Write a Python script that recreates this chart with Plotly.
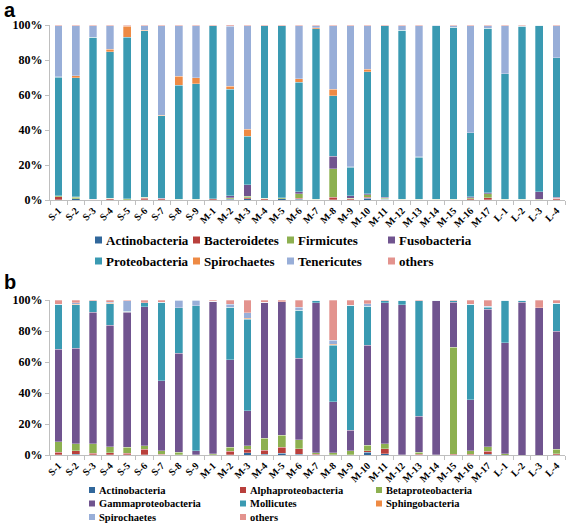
import plotly.graph_objects as go

W, H = 567, 526

samples = ["S-1", "S-2", "S-3", "S-4", "S-5", "S-6", "S-7", "S-8", "S-9",
           "M-1", "M-2", "M-3", "M-4", "M-5", "M-6", "M-7", "M-8", "M-9", "M-10",
           "M-11", "M-12", "M-13", "M-14", "M-15", "M-16", "M-17",
           "L-1", "L-2", "L-3", "L-4"]

# ---- Panel a: phylum level (%), bottom -> top ----
a_actinobacteria = [0.2, 0.6, 0.1, 0.1, 0.1, 0.2, 0.1, 0.1, 0.1, 0.1, 0.3, 0.7, 0.1, 0.7, 0.5, 0.1, 0.1, 0.1, 1.0,
                    0.3, 0.1, 0.1, 0.1, 0.1, 0.2, 0.2, 0.1, 0.1, 0.1, 0.2]
a_bacteroidetes = [1.8, 0.2, 0.2, 0.5, 0.1, 0.8, 0.5, 0.1, 0.1, 0.5, 0.3, 0.7, 0.7, 0.1, 0.5, 0.1, 1.4, 0.7, 0.7,
                   0.2, 0.1, 0.1, 0.1, 0.1, 0.6, 1.0, 0.1, 0.1, 0.1, 0.8]
a_firmicutes = [0.3, 0.8, 0.2, 0.3, 0.4, 0.5, 0.1, 0.1, 0.2, 0.1, 0.7, 0.7, 0.1, 0.5, 2.5, 0.1, 16.5, 0.2, 1.3,
                0.5, 0.1, 0.1, 0.1, 0.1, 0.5, 2.5, 0.1, 0.1, 0.1, 0.1]
a_fusobacteria = [0.0, 0.2, 0.0, 0.0, 0.0, 0.0, 0.2, 0.0, 0.0, 0.0, 1.0, 6.7, 0.1, 0.1, 1.2, 0.1, 7.1, 1.5, 0.5,
                  0.5, 0.1, 0.2, 0.0, 0.0, 0.5, 0.5, 0.0, 0.0, 4.4, 0.5]
a_proteobacteria = [67.9, 68.2, 92.4, 83.9, 92.3, 95.2, 47.3, 65.2, 66.1, 98.9, 60.9, 27.6, 98.5, 98.2, 62.5, 97.5, 34.4, 16.2, 69.7,
                    98.1, 96.7, 24.0, 99.4, 98.3, 36.5, 93.9, 71.8, 98.9, 95.1, 79.7]
a_spirochaetes = [0.3, 1.0, 0.1, 1.3, 6.5, 0.2, 0.1, 5.2, 3.5, 0.0, 1.8, 4.1, 0.0, 0.0, 2.2, 0.6, 3.7, 0.3, 1.4,
                  0.0, 0.0, 0.1, 0.0, 0.0, 0.1, 0.0, 0.0, 0.0, 0.0, 0.0]
a_tenericutes = [29.0, 28.5, 6.6, 13.4, 0.2, 2.6, 51.3, 28.9, 29.6, 0.1, 34.2, 59.0, 0.2, 0.1, 30.1, 1.1, 36.3, 80.7, 24.9,
                 0.1, 2.5, 75.0, 0.1, 1.0, 61.1, 1.5, 27.5, 0.5, 0.0, 18.2]
a_others = [0.5, 0.5, 0.4, 0.5, 0.4, 0.5, 0.4, 0.4, 0.4, 0.3, 0.8, 0.5, 0.3, 0.3, 0.5, 0.4, 0.5, 0.3, 0.5,
            0.3, 0.4, 0.4, 0.2, 0.4, 0.5, 0.4, 0.4, 0.3, 0.2, 0.5]

# ---- Panel b: class level (%), bottom -> top ----
b_actinobacteria = [0.2, 0.5, 0.1, 0.1, 0.1, 0.1, 0.1, 0.0, 0.0, 0.0, 0.1, 1.3, 0.6, 1.0, 0.5, 0.0, 0.0, 0.0, 1.9,
                    0.8, 0.0, 0.0, 0.0, 0.0, 0.0, 0.6, 0.0, 0.0, 0.0, 0.1]
b_alphaproteobacteria = [1.5, 2.3, 0.9, 1.2, 0.9, 3.6, 0.5, 0.2, 0.1, 0.1, 2.3, 2.4, 2.6, 4.0, 3.4, 0.6, 0.2, 0.2, 0.9,
                         3.1, 0.1, 0.5, 0.0, 0.6, 0.5, 1.8, 0.0, 0.0, 0.0, 0.7]
b_betaproteobacteria = [6.7, 4.5, 6.3, 4.1, 4.0, 2.3, 2.2, 1.5, 0.2, 0.7, 2.6, 2.3, 7.6, 7.7, 6.0, 0.7, 1.3, 2.6, 3.5,
                        3.4, 0.1, 1.4, 0.2, 68.8, 2.3, 2.8, 0.8, 0.0, 0.0, 2.9]
b_gammaproteobacteria = [59.7, 61.5, 84.9, 78.4, 87.2, 89.5, 45.0, 63.8, 2.5, 98.3, 56.4, 22.4, 87.7, 86.2, 52.4, 96.8, 32.8, 13.1, 64.6,
                         91.0, 96.6, 23.1, 99.4, 29.1, 33.0, 88.8, 71.6, 98.5, 95.0, 76.3]
b_mollicutes = [29.3, 28.0, 7.2, 13.8, 0.7, 2.6, 50.9, 29.5, 93.5, 0.0, 33.9, 59.1, 0.0, 0.0, 31.2, 1.7, 36.6, 80.7, 25.2,
                1.3, 3.2, 74.6, 0.2, 0.9, 61.6, 1.3, 27.4, 1.5, 0.0, 17.8]
b_sphingobacteria = [0.0, 0.6, 0.0, 0.2, 0.0, 0.0, 0.0, 0.0, 0.0, 0.0, 0.0, 0.6, 0.0, 0.0, 0.0, 0.0, 0.4, 0.0, 0.0,
                     0.0, 0.0, 0.0, 0.0, 0.0, 0.0, 0.2, 0.0, 0.0, 0.0, 0.0]
b_spirochaetes = [0.0, 0.8, 0.0, 0.7, 6.5, 0.0, 0.0, 4.8, 3.5, 0.0, 2.1, 3.7, 0.0, 0.0, 1.8, 0.0, 2.8, 0.0, 1.5,
                  0.0, 0.0, 0.0, 0.0, 0.0, 0.0, 0.6, 0.0, 0.0, 0.0, 0.0]
b_others = [2.6, 1.8, 0.6, 1.5, 0.6, 1.9, 1.3, 0.2, 0.2, 0.9, 2.6, 8.2, 1.5, 1.1, 4.7, 0.2, 25.9, 3.4, 2.4,
            0.4, 0.0, 0.4, 0.2, 0.6, 2.6, 3.9, 0.2, 0.0, 5.0, 2.2]

a_names = ["Actinobacteria", "Bacteroidetes", "Firmicutes", "Fusobacteria",
           "Proteobacteria", "Spirochaetes", "Tenericutes", "others"]
a_series = [a_actinobacteria, a_bacteroidetes, a_firmicutes, a_fusobacteria,
            a_proteobacteria, a_spirochaetes, a_tenericutes, a_others]
b_names = ["Actinobacteria", "Alphaproteobacteria", "Betaproteobacteria", "Gammaproteobacteria",
           "Mollicutes", "Sphingobacteria", "Spirochaetes", "others"]
b_series = [b_actinobacteria, b_alphaproteobacteria, b_betaproteobacteria, b_gammaproteobacteria,
            b_mollicutes, b_sphingobacteria, b_spirochaetes, b_others]

palette = ["#31679B", "#B9403C", "#8DB050", "#70548F", "#3A9AB2", "#EE8A44", "#98AED8", "#E3938E"]
pct_ticks = [0, 20, 40, 60, 80, 100]
pct_text = ["0%", "20%", "40%", "60%", "80%", "100%"]

SERIF = "Liberation Serif"

fig = go.Figure()
for name, vals, col in zip(a_names, a_series, palette):
    fig.add_trace(go.Bar(x=samples, y=vals, name=name, marker_color=col,
                         marker_line=dict(color="rgba(255,255,255,0.6)", width=0.5),
                         xaxis="x", yaxis="y", showlegend=False, width=0.45))
for name, vals, col in zip(b_names, b_series, palette):
    fig.add_trace(go.Bar(x=samples, y=vals, name=name, marker_color=col,
                         marker_line=dict(color="rgba(255,255,255,0.6)", width=0.5),
                         xaxis="x2", yaxis="y2", showlegend=False, width=0.45))

# ---- legend keys (panel a: 4 columns x 2 rows, panel b: 3 columns x 3 rows) ----
shapes, annotations = [], []


def add_legend(names, colors, ncol, text_x, row_y, box, fsize):
    for i, (nm, col) in enumerate(zip(names, colors)):
        tx = text_x[i % ncol]
        ty = row_y[i // ncol]
        shapes.append(dict(type="rect", xref="paper", yref="paper",
                           x0=(tx - 3 - box) / W, x1=(tx - 3) / W,
                           y0=1 - (ty + box / 2) / H, y1=1 - (ty - box / 2) / H,
                           fillcolor=col, line=dict(width=0)))
        annotations.append(dict(text=nm, x=tx / W, y=1 - ty / H, xref="paper", yref="paper",
                                xanchor="left", yanchor="middle", showarrow=False, borderpad=0,
                                font=dict(family=SERIF, size=fsize, color="black", weight="bold")))


add_legend(a_names, palette, 4, [105, 203, 297, 398], [240, 261], 7, 13)
add_legend(b_names, palette, 3, [98, 249, 385], [490, 503.5, 517], 6, 10.5)

annotations.append(dict(text="a", x=2 / W, y=1 - 10 / H, xref="paper", yref="paper", xanchor="left",
                        yanchor="middle", showarrow=False,
                        font=dict(family="Liberation Sans", size=20, color="black", weight="bold")))
annotations.append(dict(text="b", x=2 / W, y=1 - 282 / H, xref="paper", yref="paper", xanchor="left",
                        yanchor="middle", showarrow=False,
                        font=dict(family="Liberation Sans", size=20, color="black", weight="bold")))

xdom = [50 / W, 565 / W]
axis_common = dict(showline=True, linecolor="#BFBFBF", linewidth=1, ticks="outside",
                   tickcolor="#BFBFBF", ticklen=4, showgrid=False, zeroline=False)

fig.update_layout(
    width=W, height=H, margin=dict(l=0, r=0, t=0, b=0),
    barmode="stack", plot_bgcolor="white", paper_bgcolor="white", showlegend=False,
    xaxis=dict(domain=xdom, anchor="y", tickson="boundaries", tickangle=-45, automargin=False,
               tickfont=dict(family=SERIF, size=10, color="black", weight="bold"), **axis_common),
    yaxis=dict(domain=[1 - 200 / H, 1 - 25 / H], anchor="x", range=[0, 100], automargin=False,
               tickvals=pct_ticks, ticktext=pct_text,
               tickfont=dict(family=SERIF, size=12, color="black", weight="bold"), **axis_common),
    xaxis2=dict(domain=xdom, anchor="y2", tickson="boundaries", tickangle=-45, automargin=False,
                tickfont=dict(family=SERIF, size=10, color="black", weight="bold"), **axis_common),
    yaxis2=dict(domain=[1 - 455 / H, 1 - 300 / H], anchor="x2", range=[0, 100], automargin=False,
                tickvals=pct_ticks, ticktext=pct_text,
                tickfont=dict(family=SERIF, size=12, color="black", weight="bold"), **axis_common),
    shapes=shapes,
    annotations=annotations,
)

fig.write_html("out.html", config={"displayModeBar": False},
               post_script="document.body.style.margin='0';document.body.style.overflow='hidden';")
